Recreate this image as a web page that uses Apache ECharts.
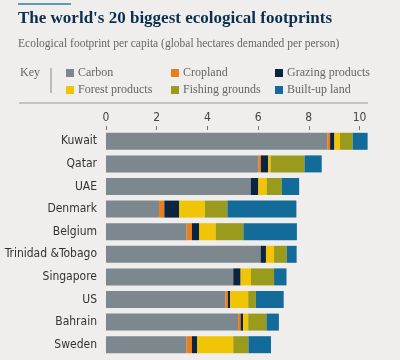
<!DOCTYPE html>
<html>
<head>
<meta charset="utf-8">
<script src="https://cdn.jsdelivr.net/npm/echarts@6/dist/echarts.min.js"></script>
<style>
html,body{margin:0;padding:0;background:#efeeec;}
#chart{width:400px;height:360px;}
</style>
</head>
<body>
<div id="chart"></div>
<script>
const countries = ['Kuwait','Qatar','UAE','Denmark','Belgium','Trinidad &Tobago','Singapore','US','Bahrain','Sweden'];
const seriesNames = ['Carbon','Cropland','Grazing products','Forest products','Fishing grounds','Built-up land'];
const carbon   = [8.73, 6.01, 5.71, 2.09, 3.18, 6.10, 5.02, 4.71, 5.21, 3.18];
const cropland = [0.11, 0.10, 0.00, 0.21, 0.21, 0.00, 0.00, 0.10, 0.10, 0.21];
const grazing  = [0.17, 0.29, 0.30, 0.59, 0.29, 0.21, 0.29, 0.09, 0.10, 0.21];
const forest   = [0.22, 0.09, 0.33, 1.01, 0.65, 0.32, 0.41, 0.71, 0.20, 1.42];
const fishing  = [0.50, 1.34, 0.59, 0.89, 1.09, 0.50, 0.91, 0.30, 0.72, 0.60];
const builtup  = [0.59, 0.68, 0.69, 2.72, 2.11, 0.39, 0.49, 1.10, 0.49, 0.89];
const xTicks = [0, 2, 4, 6, 8, 10];

const colors = ['#7c878e','#ea7d1c','#0d2440','#f0c505','#9a9a1c','#126b98'];
const values = [carbon, cropland, grazing, forest, fishing, builtup];

const legendPos = [[66,67],[171,67],[275,67],[66,84],[171,84],[275,84]];

const chart = echarts.init(document.getElementById('chart'), null, {renderer:'canvas'});
const serifFont = '"Liberation Serif", "DejaVu Serif", serif';
const narrowFont = '"Liberation Sans Narrow", "DejaVu Sans Condensed", "Roboto", sans-serif';

const option = {
  backgroundColor: '#efeeec',
  animation: false,
  title: [{
    text: "The world's 20 biggest ecological footprints",
    left: 18, top: 10, padding: 0,
    textStyle: {fontFamily: serifFont, fontWeight: 'bold', fontSize: 17, color: '#0b2f4f'}
  },{
    text: 'Ecological footprint per capita (global hectares demanded per person)',
    left: 18, top: 38, padding: 0,
    textStyle: {fontFamily: serifFont, fontWeight: 'normal', fontSize: 11.5, color: '#666'}
  }],
  graphic: [
    {type:'rect', shape:{x:18,y:3,width:53,height:2}, style:{fill:'#5d9bb1'}},
    {type:'text', x:20, y:67, style:{text:'Key', font:'12px ' + serifFont, fill:'#666'}},
    {type:'line', shape:{x1:51,y1:68,x2:51,y2:93}, style:{stroke:'#888', lineWidth:1}},
    {type:'line', shape:{x1:19,y1:103,x2:368,y2:103}, style:{stroke:'#999', lineWidth:1}}
  ],
  legend: seriesNames.map((n, i) => ({
    data: [n],
    left: legendPos[i][0], top: legendPos[i][1],
    icon: 'rect', itemWidth: 8, itemHeight: 8, itemGap: 5,
    textStyle: {fontFamily: serifFont, fontSize: 12, color: '#666', padding:[0,0,0,-1]},
    padding: 0, selectedMode: false
  })),
  grid: {left: 106, right: 40.5, top: 130, bottom: 4, containLabel: false},
  xAxis: {
    type: 'value', position: 'top', min: 0, max: 10, interval: 2,
    axisLine: {show: false},
    axisTick: {show: true, length: 4, lineStyle: {color: '#777'}},
    splitLine: {show: false},
    axisLabel: {margin: 6, fontFamily: narrowFont, fontSize: 12, color: '#444',
      formatter: v => xTicks.includes(v) ? String(v) : ''}
  },
  yAxis: {
    type: 'category', inverse: true, data: countries,
    axisLine: {show: false}, axisTick: {show: false},
    axisLabel: {margin: 9, fontFamily: narrowFont, fontSize: 12, color: '#333'}
  },
  series: seriesNames.map((n, i) => ({
    name: n, type: 'bar', stack: 'total', data: values[i],
    barWidth: 17, clip: false,
    itemStyle: {color: colors[i]},
    emphasis: {disabled: true}
  }))
};
chart.setOption(option);
</script>
</body>
</html>
